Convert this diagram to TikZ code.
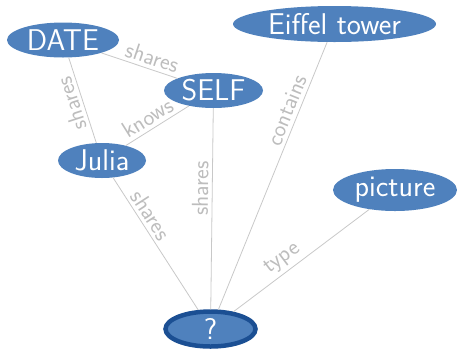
\documentclass[tikz,border=0pt]{standalone}
\usetikzlibrary{shapes.geometric}
\definecolor{nodeblue}{HTML}{4F81BD}
\definecolor{darkblue}{HTML}{1B4F93}
\definecolor{edgegray}{HTML}{C8C8C8}
\definecolor{labelgray}{HTML}{BDBDBD}
\begin{document}
\begin{tikzpicture}[x=1pt,y=-1pt,
  ent/.style={ellipse, fill=nodeblue, text=white, inner sep=0pt,
    font=\sffamily\fontsize{30}{30}\selectfont},
  rel/.style={draw=edgegray, line width=0.8pt},
  lab/.style={sloped, allow upside down, above, text=labelgray, inner sep=3.5pt,
    font=\sffamily\fontsize{23}{23}\selectfont}]
\useasboundingbox (0,0) rectangle (457,349);
\node[ent, minimum width=112pt, minimum height=35pt] (date) at (63,40) {DATE};
\node[ent, minimum width=203pt, minimum height=36pt] (eiffel) at (334.5,24) {Eiffel tower};
\node[ent, minimum width=99pt, minimum height=35pt] (self) at (213.5,90.5) {SELF};
\node[ent, minimum width=88pt, minimum height=35pt] (julia) at (102,160.5) {Julia};
\node[ent, minimum width=124pt, minimum height=42pt] (picture) at (395,190) {picture};
\node[ent, draw=darkblue, line width=4.5pt, minimum width=90pt, minimum height=35pt] (q) at (210.5,329) {?};
\draw[rel] (date) -- node[lab, pos=0.62] {shares} (self);
\draw[rel] (julia) -- node[lab, pos=0.5] {shares} (date);
\draw[rel] (julia) -- node[lab, pos=0.45] {knows} (self);
\draw[rel] (q) -- node[lab, pos=0.6] {shares} (self);
\draw[rel] (q) -- node[lab, pos=0.73] {contains} (eiffel);
\draw[rel] (julia) -- node[lab, pos=0.33] {shares} (q);
\draw[rel] (q) -- node[lab, pos=0.42] {type} (picture);
\end{tikzpicture}
\end{document}
